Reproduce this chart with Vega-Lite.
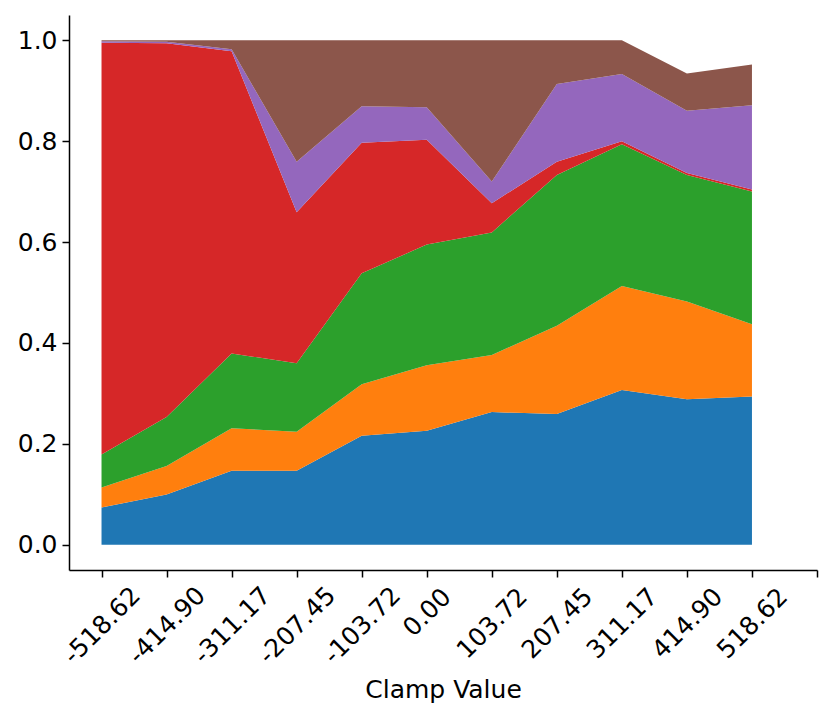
{
  "$schema": "https://vega.github.io/schema/vega-lite/v6.json",
  "autosize": "none",
  "padding": {"left": 69, "top": 15, "right": 13, "bottom": 148},
  "width": 748,
  "height": 555,
  "background": "white",
  "config": {
    "font": "DejaVu Sans",
    "view": {"stroke": null},
    "axis": {
      "grid": false,
      "domainColor": "black",
      "domainWidth": 1.5,
      "tickColor": "black",
      "tickWidth": 1.5,
      "tickSize": 7,
      "labelColor": "black",
      "labelFontSize": 25,
      "titleColor": "black",
      "titleFontSize": 25,
      "titleFontWeight": "normal"
    }
  },
  "data": {
    "values": [
      {"clamp": -518.62, "s": "s1", "v": 0.074},
      {"clamp": -518.62, "s": "s2", "v": 0.0395},
      {"clamp": -518.62, "s": "s3", "v": 0.0655},
      {"clamp": -518.62, "s": "s4", "v": 0.816},
      {"clamp": -518.62, "s": "s5", "v": 0.003},
      {"clamp": -518.62, "s": "s6", "v": 0.002},
      {"clamp": -414.896, "s": "s1", "v": 0.0997},
      {"clamp": -414.896, "s": "s2", "v": 0.0563},
      {"clamp": -414.896, "s": "s3", "v": 0.097},
      {"clamp": -414.896, "s": "s4", "v": 0.741},
      {"clamp": -414.896, "s": "s5", "v": 0.003},
      {"clamp": -414.896, "s": "s6", "v": 0.003},
      {"clamp": -311.172, "s": "s1", "v": 0.1465},
      {"clamp": -311.172, "s": "s2", "v": 0.0845},
      {"clamp": -311.172, "s": "s3", "v": 0.148},
      {"clamp": -311.172, "s": "s4", "v": 0.599},
      {"clamp": -311.172, "s": "s5", "v": 0.004},
      {"clamp": -311.172, "s": "s6", "v": 0.018},
      {"clamp": -207.448, "s": "s1", "v": 0.1465},
      {"clamp": -207.448, "s": "s2", "v": 0.0775},
      {"clamp": -207.448, "s": "s3", "v": 0.136},
      {"clamp": -207.448, "s": "s4", "v": 0.299},
      {"clamp": -207.448, "s": "s5", "v": 0.1},
      {"clamp": -207.448, "s": "s6", "v": 0.241},
      {"clamp": -103.724, "s": "s1", "v": 0.216},
      {"clamp": -103.724, "s": "s2", "v": 0.102},
      {"clamp": -103.724, "s": "s3", "v": 0.22},
      {"clamp": -103.724, "s": "s4", "v": 0.259},
      {"clamp": -103.724, "s": "s5", "v": 0.072},
      {"clamp": -103.724, "s": "s6", "v": 0.131},
      {"clamp": 0, "s": "s1", "v": 0.226},
      {"clamp": 0, "s": "s2", "v": 0.13},
      {"clamp": 0, "s": "s3", "v": 0.239},
      {"clamp": 0, "s": "s4", "v": 0.2076},
      {"clamp": 0, "s": "s5", "v": 0.0644},
      {"clamp": 0, "s": "s6", "v": 0.133},
      {"clamp": 103.724, "s": "s1", "v": 0.263},
      {"clamp": 103.724, "s": "s2", "v": 0.113},
      {"clamp": 103.724, "s": "s3", "v": 0.243},
      {"clamp": 103.724, "s": "s4", "v": 0.058},
      {"clamp": 103.724, "s": "s5", "v": 0.043},
      {"clamp": 103.724, "s": "s6", "v": 0.28},
      {"clamp": 207.448, "s": "s1", "v": 0.259},
      {"clamp": 207.448, "s": "s2", "v": 0.175},
      {"clamp": 207.448, "s": "s3", "v": 0.299},
      {"clamp": 207.448, "s": "s4", "v": 0.026},
      {"clamp": 207.448, "s": "s5", "v": 0.154},
      {"clamp": 207.448, "s": "s6", "v": 0.087},
      {"clamp": 311.172, "s": "s1", "v": 0.307},
      {"clamp": 311.172, "s": "s2", "v": 0.206},
      {"clamp": 311.172, "s": "s3", "v": 0.281},
      {"clamp": 311.172, "s": "s4", "v": 0.006},
      {"clamp": 311.172, "s": "s5", "v": 0.133},
      {"clamp": 311.172, "s": "s6", "v": 0.067},
      {"clamp": 414.896, "s": "s1", "v": 0.2885},
      {"clamp": 414.896, "s": "s2", "v": 0.1935},
      {"clamp": 414.896, "s": "s3", "v": 0.251},
      {"clamp": 414.896, "s": "s4", "v": 0.004},
      {"clamp": 414.896, "s": "s5", "v": 0.123},
      {"clamp": 414.896, "s": "s6", "v": 0.074},
      {"clamp": 518.62, "s": "s1", "v": 0.2937},
      {"clamp": 518.62, "s": "s2", "v": 0.1433},
      {"clamp": 518.62, "s": "s3", "v": 0.263},
      {"clamp": 518.62, "s": "s4", "v": 0.004},
      {"clamp": 518.62, "s": "s5", "v": 0.167},
      {"clamp": 518.62, "s": "s6", "v": 0.081}
    ]
  },
  "mark": {"type": "area", "interpolate": "linear"},
  "encoding": {
    "x": {
      "field": "clamp",
      "type": "quantitative",
      "title": "Clamp Value",
      "scale": {"domain": [-570.482, 622.344], "nice": false, "zero": false},
      "axis": {
        "values": [-518.62, -414.896, -311.172, -207.448, -103.724, 0, 103.724, 207.448, 311.172, 414.896, 518.62, 622.344],
        "labelExpr": "datum.value > 600 ? '' : replace(format(datum.value, '.2f'), '\u2212', '-')",
        "labelAngle": -45,
        "labelAlign": "center",
        "labelBaseline": "middle",
        "labelPadding": {
          "condition": [
            {"test": "datum.value < -1", "value": 48},
            {"test": "datum.value > -1 && datum.value < 1", "value": 35}
          ],
          "value": 46
        },
        "labelOverlap": false,
        "titleY": 127,
        "titleBaseline": "alphabetic"
      }
    },
    "y": {
      "field": "v",
      "type": "quantitative",
      "aggregate": "sum",
      "stack": "zero",
      "title": null,
      "scale": {"domain": [-0.05, 1.05], "nice": false, "zero": false},
      "axis": {
        "values": [0, 0.2, 0.4, 0.6, 0.8, 1.0],
        "format": ".1f",
        "labelPadding": 5
      }
    },
    "color": {
      "field": "s",
      "type": "nominal",
      "scale": {
        "domain": ["s1", "s2", "s3", "s4", "s5", "s6"],
        "range": ["#1f77b4", "#ff7f0e", "#2ca02c", "#d62728", "#9467bd", "#8c564b"]
      },
      "legend": null
    },
    "order": {"field": "s", "sort": "ascending"}
  }
}
